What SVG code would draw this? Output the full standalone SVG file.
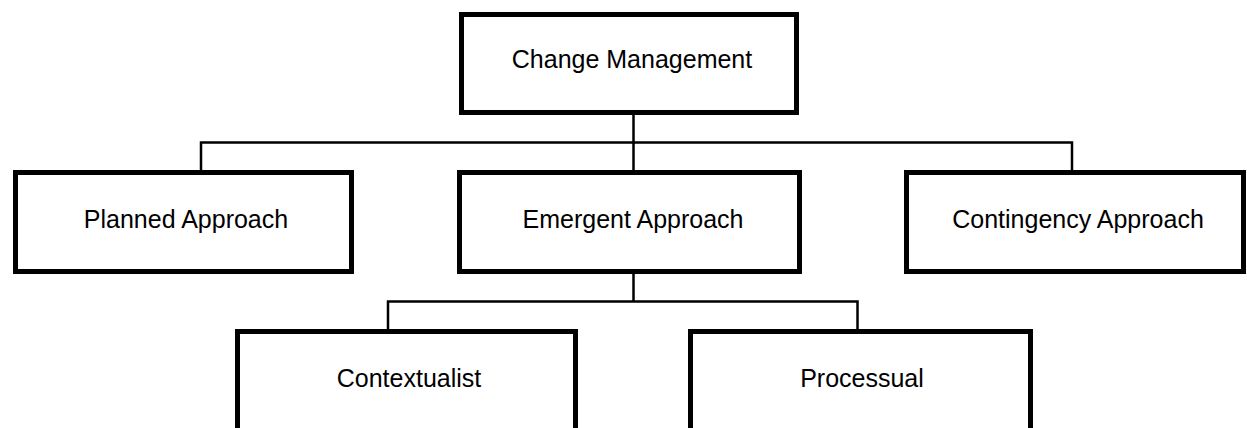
<svg xmlns="http://www.w3.org/2000/svg" width="1247" height="428" viewBox="0 0 1247 428">
<style>
.box{fill:#fff;stroke:#000;stroke-width:5}
.lbl{font-family:"Liberation Sans",Arial,sans-serif;font-size:25px;fill:#000;text-anchor:middle}
.con{fill:none;stroke:#000;stroke-width:2.5}
</style>
<rect width="1247" height="428" fill="#fff"/>
<g id="connectors">
<path class="con" d="M633.5 115 V142.5 M201 170 V142.5 H1072 V170 M633.5 142.5 V170"/>
<path class="con" d="M633.5 274 V301.5 M388 329 V301.5 H857.5 V329"/>
</g>
<g id="change-management">
<rect class="box" x="461.5" y="14.5" width="335" height="98"/>
<text class="lbl" x="632" y="68">Change Management</text>
</g>
<g id="planned-approach">
<rect class="box" x="15.5" y="172.5" width="336" height="99"/>
<text class="lbl" x="186" y="228">Planned Approach</text>
</g>
<g id="emergent-approach">
<rect class="box" x="459.5" y="172.5" width="340" height="99"/>
<text class="lbl" x="633" y="228">Emergent Approach</text>
</g>
<g id="contingency-approach">
<rect class="box" x="906.5" y="172.5" width="337" height="99"/>
<text class="lbl" x="1078" y="228">Contingency Approach</text>
</g>
<g id="contextualist">
<rect class="box" x="237.5" y="331.5" width="338" height="110"/>
<text class="lbl" x="409" y="387">Contextualist</text>
</g>
<g id="processual">
<rect class="box" x="690.5" y="331.5" width="340" height="110"/>
<text class="lbl" x="862" y="387">Processual</text>
</g>
</svg>
